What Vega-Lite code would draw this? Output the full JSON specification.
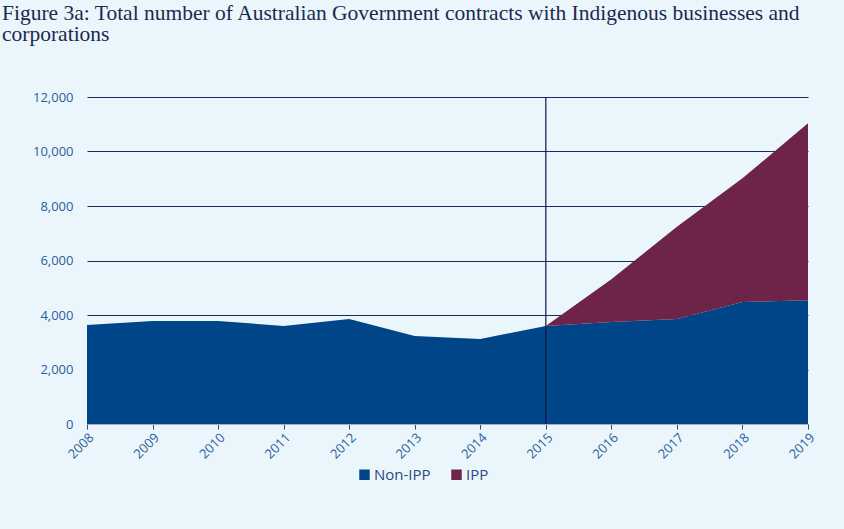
{
  "$schema": "https://vega.github.io/schema/vega-lite/v6.json",
  "width": 721,
  "height": 327,
  "autosize": "none",
  "padding": {"left": 87, "top": 97, "right": 36, "bottom": 105},
  "background": "#eaf6fc",
  "title": {
    "text": ["Figure 3a: Total number of Australian Government contracts with Indigenous businesses and", "corporations"],
    "anchor": "start",
    "frame": "group",
    "font": "Liberation Serif",
    "fontSize": 21.5,
    "fontWeight": "normal",
    "color": "#1b2a4e",
    "lineHeight": 21,
    "dx": -85,
    "offset": 46
  },
  "datasets": {
    "contracts": [
      {"year": 2008, "type": "Non-IPP", "value": 3630},
      {"year": 2009, "type": "Non-IPP", "value": 3780},
      {"year": 2010, "type": "Non-IPP", "value": 3780},
      {"year": 2011, "type": "Non-IPP", "value": 3600},
      {"year": 2012, "type": "Non-IPP", "value": 3850},
      {"year": 2013, "type": "Non-IPP", "value": 3230},
      {"year": 2014, "type": "Non-IPP", "value": 3120},
      {"year": 2015, "type": "Non-IPP", "value": 3600},
      {"year": 2016, "type": "Non-IPP", "value": 3740},
      {"year": 2017, "type": "Non-IPP", "value": 3850},
      {"year": 2018, "type": "Non-IPP", "value": 4480},
      {"year": 2019, "type": "Non-IPP", "value": 4540},
      {"year": 2015, "type": "IPP", "value": 0},
      {"year": 2016, "type": "IPP", "value": 1570},
      {"year": 2017, "type": "IPP", "value": 3390},
      {"year": 2018, "type": "IPP", "value": 4535},
      {"year": 2019, "type": "IPP", "value": 6495}
    ]
  },
  "config": {
    "view": {"stroke": null},
    "axis": {
      "labelFont": "Open Sans",
      "labelColor": "#2d5e9a",
      "labelFontSize": 13,
      "title": null
    }
  },
  "layer": [
    {
      "data": {"name": "contracts"},
      "mark": {"type": "area", "interpolate": "linear"},
      "encoding": {
        "x": {
          "field": "year",
          "type": "quantitative",
          "scale": {"domain": [2008, 2019], "nice": false},
          "axis": {
            "values": [2008, 2009, 2010, 2011, 2012, 2013, 2014, 2015, 2016, 2017, 2018, 2019],
            "format": "d",
            "labelAngle": -45,
            "labelFontSize": 13,
            "grid": false,
            "domainColor": "#9fb0c8",
            "tickColor": "#3a4a6a",
            "tickSize": 5,
            "labelPadding": 2
          }
        },
        "y": {
          "field": "value",
          "type": "quantitative",
          "stack": "zero",
          "scale": {"domain": [0, 12000]},
          "axis": {
            "values": [0, 2000, 4000, 6000, 8000, 10000, 12000],
            "format": ",.0f",
            "grid": true,
            "gridColor": "#1c2a5c",
            "gridOpacity": 1,
            "gridWidth": 1,
            "domain": false,
            "ticks": false,
            "labelPadding": 14
          }
        },
        "color": {
          "field": "type",
          "type": "nominal",
          "scale": {"domain": ["Non-IPP", "IPP"], "range": ["#004587", "#6e2349"]},
          "legend": {
            "title": null,
            "orient": "none",
            "direction": "horizontal",
            "legendX": 270,
            "legendY": 370,
            "symbolType": "square",
            "symbolSize": 110,
            "symbolStrokeWidth": 0,
            "labelFont": "Open Sans",
            "labelFontSize": 15,
            "labelColor": "#2a4a7a",
            "labelOffset": 2,
            "columnPadding": 18
          }
        },
        "order": {"field": "type", "sort": "descending"}
      }
    },
    {
      "data": {"values": [{"year": 2015}]},
      "mark": {"type": "rule", "color": "#0c1845", "strokeWidth": 1.2},
      "encoding": {
        "x": {"field": "year", "type": "quantitative"}
      }
    }
  ]
}
